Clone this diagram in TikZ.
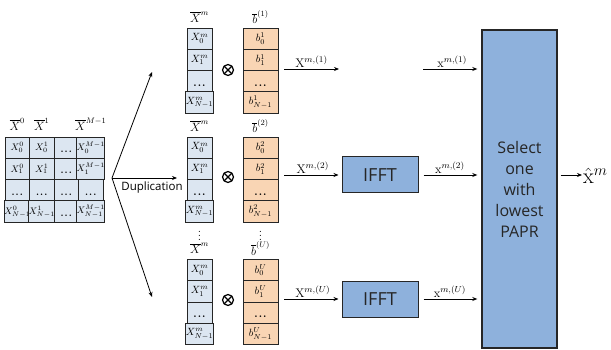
\RequirePackage{fix-cm}
\documentclass[tikz,border=0pt]{standalone}
\usepackage{fontspec}
\newfontfamily\boxfont{Open Sans}
\usetikzlibrary{arrows.meta}

\definecolor{cellblue}{HTML}{DCE6F1}
\definecolor{cellpeach}{HTML}{F9D5B4}
\definecolor{procblue}{HTML}{8EB1DC}
\definecolor{edgegray}{HTML}{262626}

% dots that sit low in a cell, as in a table of values
\newcommand{\celldots}{\smash{\raisebox{-5pt}{\textbf{.\kern1pt.\kern1pt.}}}}

\begin{document}
\begin{tikzpicture}[x=1pt,y=-1pt,
  cell/.style={draw=edgegray, line width=0.8pt, inner sep=0pt,
    minimum height=21.25pt, font=\fontsize{10.5}{10.5}\selectfont},
  mcell/.style={cell, fill=cellblue, minimum width=24.5pt, font=\fontsize{9.5}{9.5}\selectfont},
  xcell/.style={cell, fill=cellblue, minimum width=25pt},
  bcell/.style={cell, fill=cellpeach, minimum width=35pt},
  hdr/.style={inner sep=0pt, font=\fontsize{12}{12}\selectfont},
  proc/.style={draw=edgegray, line width=1pt, fill=procblue, text=black!85,
    font=\boxfont\fontsize{18}{18}\selectfont},
  flow/.style={-{Stealth[length=5pt,width=4pt]}, line width=0.8pt},
  lbl/.style={above, inner sep=1.5pt, font=\fontsize{12.5}{12.5}\selectfont},
  mult/.style={circle, draw=black, line width=1.2pt, inner sep=0pt, minimum size=11pt,
    path picture={\draw[line width=1.2pt]
      (path picture bounding box.north west) -- (path picture bounding box.south east)
      (path picture bounding box.north east) -- (path picture bounding box.south west);}}]
\useasboundingbox (0,0) rectangle (611,350);

% ---- source block: columns X^0 ... X^{M-1}
\foreach \r/\ry/\ix in {0/147.6/0, 1/168.9/1, 3/211.4/{N-1}} {
  \node[mcell] (m\r-0) at (17.25,\ry) {$X_{\ix}^{0}$};
  \node[mcell] (m\r-1) at (41.75,\ry) {$X_{\ix}^{1}$};
  \node[mcell] (m\r-2) at (66.25,\ry) {\celldots};
  \node[mcell] (m\r-3) at (90.75,\ry) {$X_{\ix}^{M-1}$};
}
\foreach \c/\cx in {0/17.25, 1/41.75, 2/66.25, 3/90.75}
  \node[mcell] (m2-\c) at (\cx,190.1) {\celldots};
\node[hdr] (h0) at (17.25,124) {$\overline{X}^{0}$};
\node[hdr] (h1) at (41.75,124) {$\overline{X}^{1}$};
\node[hdr] (hM) at (90.75,124) {$\overline{X}^{M-1}$};

% ---- duplication fan
\coordinate (split) at (112,178);
\coordinate (dupT) at (152,72);
\coordinate (dupM) at (177,178);
\coordinate (dupB) at (152,297);
\draw[flow] (split) -- (dupT);
\draw[flow] (split) -- (dupM);
\draw[flow] (split) -- (dupB);
\node[inner sep=0pt, font=\boxfont\fontsize{11.5}{11.5}\selectfont] (duplbl) at (152,188) {Duplication};

% ---- copies of X^m and phase sequences b^(u)
\foreach \g/\tp/\u/\hd in {1/28/1/(1), 2/137/2/(2), 3/259.5/U/(U)} {
  \node[xcell] (x\g-0) at (199.5,\tp+10.625) {$X_0^m$};
  \node[xcell] (x\g-1) at (199.5,\tp+31.875) {$X_1^m$};
  \node[xcell] (x\g-2) at (199.5,\tp+53.125) {\celldots};
  \node[xcell] (x\g-3) at (199.5,\tp+74.375) {$X_{N-1}^m$};
  \node[bcell] (b\g-0) at (260.5,\tp+10.625) {$b_0^{\u}$};
  \node[bcell] (b\g-1) at (260.5,\tp+31.875) {$b_1^{\u}$};
  \node[bcell] (b\g-2) at (260.5,\tp+53.125) {\celldots};
  \node[bcell] (b\g-3) at (260.5,\tp+74.375) {$b_{N-1}^{\u}$};
  \node[hdr] (hx\g) at (199.5,\tp-11) {$\overline{X}^{m}$};
  \node[hdr] (hb\g) at (260.5,\tp-11) {$\overline{b}^{\hd}$};
}
\node[mult] (ot1) at (228,70) {};
\node[mult] (ot2) at (228,177) {};
\node[mult] (ot3) at (228,300) {};
\node[hdr] (vdx) at (199.5,233) {$\vdots$};
\node[hdr] (vdb) at (260.5,233) {$\vdots$};

% ---- IFFT blocks and selector
\node[proc, minimum width=76pt, minimum height=36pt] (ifft2) at (380,175) {IFFT};
\node[proc, minimum width=76pt, minimum height=36pt] (ifft3) at (380,299) {IFFT};
\node[proc, line width=1.4pt, minimum width=75pt, minimum height=318pt, align=center,
  font=\boxfont\fontsize{16}{21}\selectfont] (sel) at (519.5,189)
  {Select\\one\\with\\lowest\\PAPR};

% ---- branch 1
\coordinate (s1) at (284,69);
\coordinate (e1) at (339,69);
\coordinate (t1) at (423,69);
\draw[flow] (s1) -- node[lbl] {$\mathrm{X}^{m,(1)}$} (e1);
\draw[flow, shorten >=4pt] (t1) -- node[lbl] {$\mathrm{x}^{m,(1)}$} (sel.west |- t1);

% ---- branch 2
\coordinate (s2) at (284,175);
\draw[flow, shorten >=3pt] (s2) -- node[lbl] {$\mathrm{X}^{m,(2)}$} (ifft2);
\draw[flow, shorten <=5pt, shorten >=4pt] (ifft2) -- node[lbl] {$\mathrm{x}^{m,(2)}$} (sel.west |- ifft2);

% ---- branch U
\coordinate (s3) at (284,299);
\draw[flow, shorten >=3pt] (s3) -- node[lbl] {$\mathrm{X}^{m,(U)}$} (ifft3);
\draw[flow, shorten <=5pt, shorten >=4pt] (ifft3) -- node[lbl] {$\mathrm{x}^{m,(U)}$} (sel.west |- ifft3);

% ---- output
\node[anchor=west, inner sep=1pt, font=\fontsize{22}{22}\selectfont] (xhat) at (582,176) {$\hat{\mathrm{x}}^{m}$};
\draw[flow, shorten <=3pt] (sel.east |- ifft2) -- (xhat.west |- ifft2);
\end{tikzpicture}
\end{document}
